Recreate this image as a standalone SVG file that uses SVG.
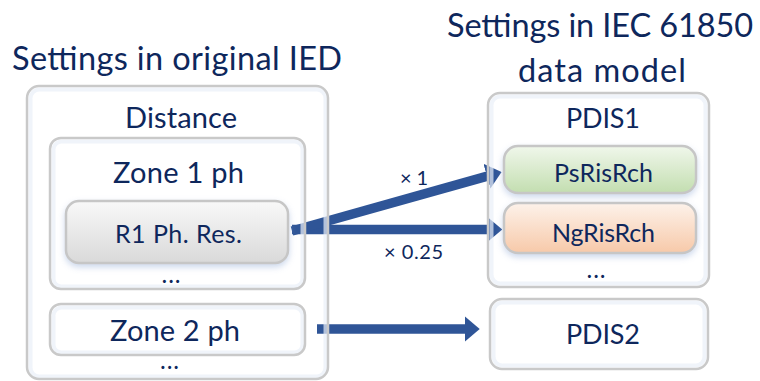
<svg xmlns="http://www.w3.org/2000/svg" width="760" height="381" viewBox="0 0 760 381">
  <style>
    text { font-family: Lato, "Open Sans", "Liberation Sans", sans-serif; fill: #0e275c; text-anchor: middle; }
    .title { font-size: 32.5px; }
    .big { font-size: 29px; }
    .mid { font-size: 27px; }
    .small { font-size: 25px; }
    .lbl { font-size: 20px; }
    .dots { font-size: 20px; font-weight: bold; letter-spacing: 2px; }
    .frame { fill: none; stroke: #c9c9c9; stroke-width: 2.5; }
    .glow { fill: none; stroke: #e9eff8; stroke-width: 4; opacity: 0.7; }
    .item { stroke: #c6c6c6; stroke-width: 2.5; filter: url(#shadow); }
    .arrow { fill: none; stroke: #2f5597; stroke-width: 9.5; stroke-linecap: butt; marker-end: url(#head); }
  </style>
  <defs>
    <marker id="head" markerUnits="strokeWidth" viewBox="0 0 16 27" refX="0.5" refY="13.5" markerWidth="1.6" markerHeight="2.7" orient="auto">
      <path d="M0,0 L16,13.5 L0,27 z" fill="#2f5597"/>
    </marker>
    <linearGradient id="gGray" x1="0" y1="0" x2="0" y2="1">
      <stop offset="0" stop-color="#f8f8f8"/>
      <stop offset="1" stop-color="#d9d9d9"/>
    </linearGradient>
    <linearGradient id="gGreen" x1="0" y1="0" x2="0" y2="1">
      <stop offset="0" stop-color="#f0f7eb"/>
      <stop offset="1" stop-color="#c3deb0"/>
    </linearGradient>
    <linearGradient id="gOrange" x1="0" y1="0" x2="0" y2="1">
      <stop offset="0" stop-color="#fdf2ea"/>
      <stop offset="1" stop-color="#f7c9a9"/>
    </linearGradient>
    <filter id="shadow" x="-10%" y="-20%" width="120%" height="160%">
      <feDropShadow dx="0" dy="3" stdDeviation="3" flood-color="#8fa9d6" flood-opacity="0.45"/>
    </filter>
  </defs>

  <rect width="760" height="381" fill="#ffffff"/>

  <!-- headings -->
  <text class="title" x="177" y="70" textLength="330" lengthAdjust="spacing">Settings in original IED</text>
  <text class="title" x="600" y="37" textLength="306" lengthAdjust="spacing">Settings in IEC 61850</text>
  <text class="title" x="602" y="82" textLength="168" lengthAdjust="spacing">data model</text>

  <!-- connectors (drawn under the frames) -->
  <g id="connectors">
    <line class="arrow" x1="292" y1="229.5" x2="487.5" y2="229.5"/>
    <line class="arrow" x1="292" y1="231" x2="487.4" y2="176.1"/>
    <line class="arrow" x1="317" y1="329" x2="465" y2="329"/>
    <text class="lbl" x="414" y="185" textLength="28" lengthAdjust="spacing">× 1</text>
    <text class="lbl" x="413.5" y="259" textLength="59" lengthAdjust="spacing">× 0.25</text>
  </g>

  <!-- original IED side -->
  <g id="distance">
    <rect class="glow" x="30.5" y="89.5" width="295" height="287" rx="9"/>
    <rect class="frame" x="27" y="86" width="301" height="293" rx="12"/>
    <text class="big" x="181" y="128" textLength="112" lengthAdjust="spacing">Distance</text>
  </g>

  <g id="zone1">
    <rect class="glow" x="53.5" y="141.5" width="249" height="145" rx="8"/>
    <rect class="frame" x="50" y="138" width="255" height="151" rx="11"/>
    <text class="big" x="178.5" y="183" textLength="131" lengthAdjust="spacing">Zone 1 ph</text>
    <text class="dots" x="172" y="283" textLength="20" lengthAdjust="spacing">...</text>
  </g>

  <g id="r1">
    <rect class="item" x="66" y="201" width="222" height="62" rx="13" fill="url(#gGray)"/>
    <text class="small" x="178.5" y="243" textLength="127" lengthAdjust="spacing">R1 Ph. Res.</text>
  </g>

  <g id="zone2">
    <rect class="glow" x="53.5" y="307.5" width="249" height="45" rx="8"/>
    <rect class="frame" x="50" y="304" width="255" height="51" rx="11"/>
    <text class="big" x="175" y="341" textLength="130" lengthAdjust="spacing">Zone 2 ph</text>
    <text class="dots" x="170.5" y="369" textLength="20" lengthAdjust="spacing">...</text>
  </g>

  <!-- IEC 61850 side -->
  <g id="pdis1">
    <rect class="glow" x="491.5" y="96.5" width="214" height="187" rx="9"/>
    <rect class="frame" x="488" y="93" width="221" height="194" rx="12"/>
    <text class="mid" x="603" y="128" textLength="74" lengthAdjust="spacing">PDIS1</text>
    <text class="dots" x="597" y="277.5" textLength="20" lengthAdjust="spacing">...</text>
  </g>

  <g id="psrisrch">
    <rect class="item" x="504" y="146" width="192" height="47" rx="14" fill="url(#gGreen)"/>
    <text class="small" x="603.5" y="182" textLength="99" lengthAdjust="spacing">PsRisRch</text>
  </g>

  <g id="ngrisrch">
    <rect class="item" x="504" y="203" width="192" height="50" rx="14" fill="url(#gOrange)"/>
    <text class="small" x="603.5" y="242" textLength="103" lengthAdjust="spacing">NgRisRch</text>
  </g>

  <g id="pdis2">
    <rect class="glow" x="493.5" y="302.5" width="211" height="63" rx="9"/>
    <rect class="frame" x="490" y="299" width="218" height="70" rx="12"/>
    <text class="mid" x="603" y="344" textLength="74" lengthAdjust="spacing">PDIS2</text>
  </g>
</svg>
